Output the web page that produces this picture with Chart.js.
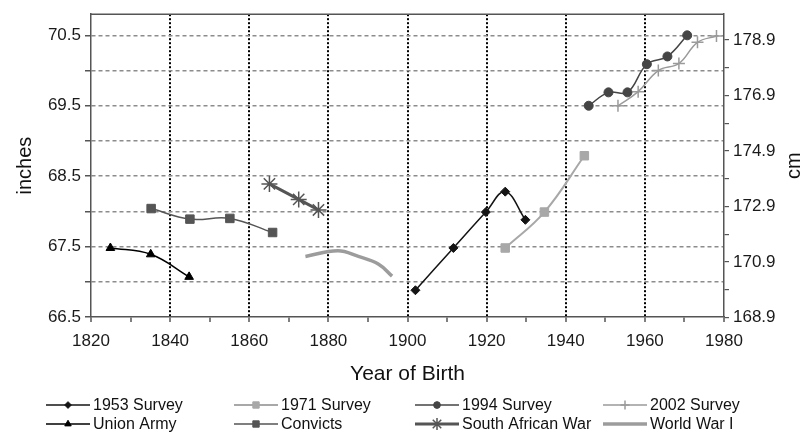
<!DOCTYPE html>
<html>
<head>
<meta charset="utf-8">
<script src="https://cdn.jsdelivr.net/npm/chart.js@4.4.1/dist/chart.umd.min.js"></script>
<style>
  html, body { margin: 0; padding: 0; background: #fff; }
  canvas { display: block; }
</style>
</head>
<body>
<canvas id="heightChart" width="806" height="436"></canvas>
<script>
// year of birth / mean height (inches)
const survey1953Years = [1902, 1911.6, 1919.8, 1924.7, 1929.8];
const survey1953Inches = [66.88, 67.48, 67.99, 68.28, 67.88];
const survey1971Years = [1924.7, 1934.6, 1944.7];
const survey1971Inches = [67.48, 67.99, 68.79];
const survey1994Years = [1945.8, 1950.8, 1955.6, 1960.5, 1965.7, 1970.7];
const survey1994Inches = [69.5, 69.69, 69.69, 70.09, 70.2, 70.5];
const survey2002Years = [1953.2, 1958.3, 1963.4, 1968.6, 1973.3, 1978.1];
const survey2002Inches = [69.5, 69.7, 70.0, 70.1, 70.4, 70.49];
const unionArmyYears = [1824.9, 1835.1, 1844.8];
const unionArmyInches = [67.48, 67.39, 67.07];
const convictsYears = [1835.2, 1845, 1855.1, 1865.9];
const convictsInches = [68.04, 67.89, 67.9, 67.7];
const southAfricanWarYears = [1865.1, 1872.5, 1877.5];
const southAfricanWarInches = [68.39, 68.17, 68.02];
const worldWar1Years = [1874.2, 1882.4, 1887.6, 1892.7, 1896.1];
const worldWar1Inches = [67.36, 67.44, 67.36, 67.25, 67.08];

const seriesNames = ['1953 Survey', '1971 Survey', '1994 Survey', '2002 Survey',
                     'Union Army', 'Convicts', 'South African War', 'World War I'];

const yearTicks = [1820, 1830, 1840, 1850, 1860, 1870, 1880, 1890, 1900,
                   1910, 1920, 1930, 1940, 1950, 1960, 1970, 1980];
const inchTicks = [66.5, 67, 67.5, 68, 68.5, 69, 69.5, 70, 70.5];
const inchLabels = [66.5, 67.5, 68.5, 69.5, 70.5];
const cmLabels = [168.9, 170.9, 172.9, 174.9, 176.9, 178.9];

const INCH_MIN = 66.5, INCH_MAX = 70.8, CM_PER_INCH = 2.54;
const FONT = "'Liberation Sans', Arial, sans-serif";

// minor ticks every half centimetre on the right axis
const cmTicks = [];
for (let v = 168.9; v < INCH_MAX * CM_PER_INCH; v += 0.5) cmTicks.push(Math.round(v * 10) / 10);

const toPoints = (xs, ys) => xs.map((x, i) => ({ x: x, y: ys[i] }));

function series(name, xs, ys, color, width, style, radius) {
    return {
        label: name,
        data: toPoints(xs, ys),
        borderColor: color,
        backgroundColor: color,
        borderWidth: width,
        pointStyle: style,
        pointRadius: radius,
        pointBorderWidth: style === 'cross' || style === 'star' ? 1.5 : 1,
        tension: 0.4,
        yAxisID: 'y'
    };
}

const datasets = [
    series(seriesNames[0], survey1953Years, survey1953Inches, '#141414', 1.5, 'rectRot', 4.5),
    series(seriesNames[1], survey1971Years, survey1971Inches, '#a8a8a8', 2, 'rect', 6),
    series(seriesNames[2], survey1994Years, survey1994Inches, '#454545', 1.5, 'circle', 4.5),
    series(seriesNames[3], survey2002Years, survey2002Inches, '#9a9a9a', 1.5, 'cross', 6),
    series(seriesNames[4], unionArmyYears, unionArmyInches, '#000000', 1.5, 'triangle', 5),
    series(seriesNames[5], convictsYears, convictsInches, '#555555', 1.5, 'rect', 6),
    series(seriesNames[6], southAfricanWarYears, southAfricanWarInches, '#555555', 3, 'star', 8),
    series(seriesNames[7], worldWar1Years, worldWar1Inches, '#9c9c9c', 3.5, false, 0)
];

// four-column legend under the x axis, line with the marker in the middle
const legendCols = [46, 234, 415, 603];
const legendRows = [405, 424];
const gridLegend = {
    id: 'gridLegend',
    afterDraw(chart) {
        const ctx = chart.ctx;
        ctx.save();
        chart.data.datasets.forEach((ds, i) => {
            const x = legendCols[i % 4], y = legendRows[Math.floor(i / 4)];
            ctx.strokeStyle = ds.borderColor;
            ctx.lineWidth = ds.borderWidth;
            ctx.beginPath();
            ctx.moveTo(x, y);
            ctx.lineTo(x + 44, y);
            ctx.stroke();
            if (ds.pointStyle) {
                ctx.fillStyle = ds.backgroundColor;
                ctx.lineWidth = ds.pointBorderWidth;
                Chart.helpers.drawPoint(ctx, {
                    pointStyle: ds.pointStyle,
                    radius: ds.pointRadius * 0.75,
                    borderWidth: ds.pointBorderWidth,
                    rotation: 0
                }, x + 22, y);
            }
            ctx.fillStyle = '#111';
            ctx.font = '16px ' + FONT;
            ctx.textBaseline = 'middle';
            ctx.textAlign = 'left';
            ctx.fillText(ds.label, x + 47, y + 1);
        });
        ctx.restore();
    }
};

// top edge of the plot box and the rotated "cm" title
const frame = {
    id: 'frame',
    afterDraw(chart) {
        const { ctx, chartArea } = chart;
        ctx.save();
        ctx.strokeStyle = '#555';
        ctx.lineWidth = 1.5;
        ctx.beginPath();
        ctx.moveTo(chartArea.left, chartArea.top);
        ctx.lineTo(chartArea.right, chartArea.top);
        ctx.stroke();
        ctx.translate(800, (chartArea.top + chartArea.bottom) / 2);
        ctx.rotate(-Math.PI / 2);
        ctx.fillStyle = '#111';
        ctx.font = '20px ' + FONT;
        ctx.textAlign = 'center';
        ctx.textBaseline = 'alphabetic';
        ctx.fillText('cm', 0, 0);
        ctx.restore();
    }
};

new Chart(document.getElementById('heightChart'), {
    type: 'line',
    data: { datasets: datasets },
    options: {
        responsive: false,
        animation: false,
        devicePixelRatio: 1,
        layout: { padding: { top: 7, bottom: 45, left: 0, right: 0 } },
        plugins: { legend: { display: false }, tooltip: { enabled: false } },
        events: [],
        scales: {
            x: {
                type: 'linear',
                min: 1820,
                max: 1980,
                afterBuildTicks: (scale) => { scale.ticks = yearTicks.map(v => ({ value: v })); },
                afterFit: (scale) => { scale.height = 74; },
                ticks: {
                    autoSkip: false,
                    maxRotation: 0,
                    padding: 9,
                    color: '#1a1a1a',
                    font: { family: FONT, size: 17 },
                    callback: (v) => v % 20 === 0 ? String(v) : ''
                },
                grid: {
                    color: (c) => {
                        const v = c.tick && c.tick.value;
                        return v % 20 === 0 && v > 1820 && v < 1980 ? '#000' : 'rgba(0,0,0,0)';
                    },
                    lineWidth: 2,
                    tickColor: '#555',
                    tickLength: 5,
                    tickWidth: 1.5,
                    tickBorderDash: []
                },
                border: { color: '#555', width: 1.5, dash: [2, 2] },
                title: {
                    display: true,
                    text: 'Year of Birth',
                    color: '#111',
                    font: { family: FONT, size: 21 },
                    padding: { top: 0, bottom: 4 }
                }
            },
            y: {
                position: 'left',
                min: INCH_MIN,
                max: INCH_MAX,
                afterBuildTicks: (scale) => { scale.ticks = inchTicks.map(v => ({ value: v })); },
                afterFit: (scale) => { scale.width = 91; },
                ticks: {
                    padding: 4,
                    color: '#1a1a1a',
                    font: { family: FONT, size: 17 },
                    callback: (v) => inchLabels.includes(v) ? v.toFixed(1) : ''
                },
                grid: {
                    color: (c) => c.tick && c.tick.value > INCH_MIN ? '#8c8c8c' : 'rgba(0,0,0,0)',
                    lineWidth: 1.5,
                    tickColor: '#555',
                    tickLength: 6,
                    tickWidth: 1.5,
                    tickBorderDash: []
                },
                border: { color: '#555', width: 1.5, dash: [4, 3] },
                title: {
                    display: true,
                    text: 'inches',
                    color: '#111',
                    font: { family: FONT, size: 20 },
                    padding: { top: 13, bottom: 0 }
                }
            },
            y2: {
                position: 'right',
                min: INCH_MIN * CM_PER_INCH,
                max: INCH_MAX * CM_PER_INCH,
                afterBuildTicks: (scale) => { scale.ticks = cmTicks.map(v => ({ value: v })); },
                afterFit: (scale) => { scale.width = 82; },
                ticks: {
                    padding: 4,
                    color: '#1a1a1a',
                    font: { family: FONT, size: 17 },
                    callback: (v) => cmLabels.some(l => Math.abs(l - v) < 0.01) ? v.toFixed(1) : ''
                },
                grid: {
                    drawOnChartArea: false,
                    color: '#555',
                    tickColor: '#555',
                    tickLength: 5,
                    lineWidth: 1.2
                },
                border: { color: '#555', width: 1.5 }
            }
        }
    },
    plugins: [gridLegend, frame]
});
</script>
</body>
</html>
